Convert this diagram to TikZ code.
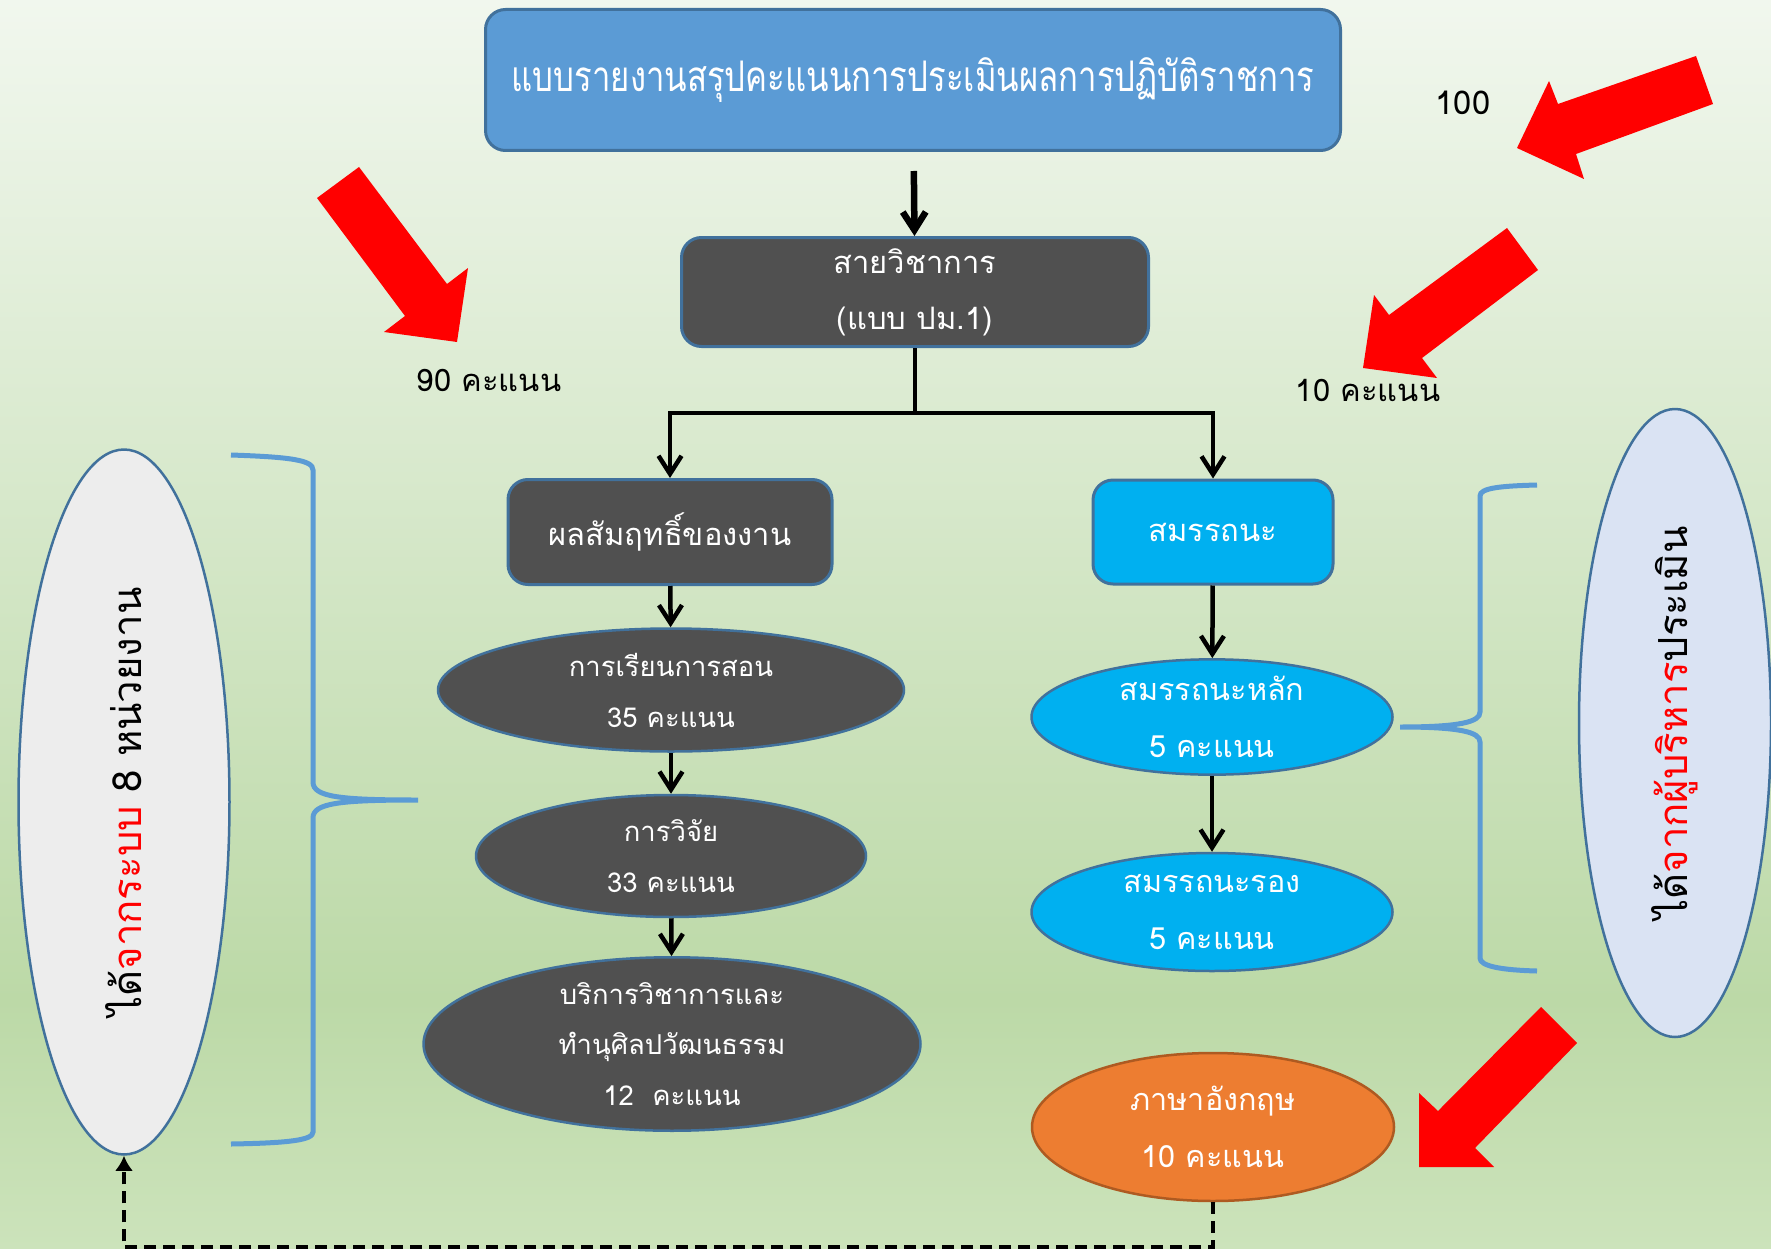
\documentclass[tikz,border=0pt]{standalone}
\usepackage{fontspec}
\usepackage{tikz}
\usetikzlibrary{arrows.meta,calc,shapes.geometric,positioning}
\setmainfont[Script=Thai]{Loma}
\newfontfamily\thinthai[Script=Thai,FakeStretch=0.78]{Loma}
\definecolor{topblue}{HTML}{5B9BD5}
\definecolor{edgeblue}{HTML}{41719C}
\definecolor{boxgray}{HTML}{505050}
\definecolor{skyblue}{HTML}{00B0F0}
\definecolor{engorange}{HTML}{ED7D31}
\definecolor{engedge}{HTML}{AE5A21}
\definecolor{sysgray}{HTML}{EDEDED}
\definecolor{execblue}{HTML}{DAE3F3}
\definecolor{bgtop}{HTML}{F1F7EE}
\definecolor{bgmid}{HTML}{BCD9A7}
\definecolor{bgbot}{HTML}{CCE3BB}
\tikzset{
	box/.style={draw=edgeblue,line width=0.3mm,rounded corners=2mm,text=white,align=center,inner sep=0pt,font=\fontsize{8.8}{16}\selectfont},
	graybox/.style={box,fill=boxgray},
	skybox/.style={box,fill=skyblue},
	oval/.style={ellipse,draw=edgeblue,line width=0.25mm,text=white,align=center,inner sep=0pt,font=\fontsize{8.7}{16.2}\selectfont},
	grayoval/.style={oval,fill=boxgray,font=\fontsize{7.8}{14.5}\selectfont},
	flow/.style={-{Straight Barb[length=1.8mm,width=2.3mm]},line width=0.45mm},
	brace/.style={draw=topblue,line width=0.5mm},
	score/.style={font=\fontsize{8.8}{11}\selectfont},
	sidetext/.style={rotate=90,font=\fontsize{11.4}{13}\selectfont}
}

\begin{document}
\begin{tikzpicture}[x=0.1mm,y=-0.1mm]
	\useasboundingbox (0,0) rectangle (1771,1249);
	\shade[top color=bgtop,bottom color=bgmid] (0,0) rectangle (1771,1000);
	\shade[top color=bgmid,bottom color=bgbot] (0,1000) rectangle (1771,1249);
	
	\node[box,fill=topblue,minimum width=85.5mm,minimum height=14.1mm,font=\thinthai\fontsize{12}{14}\selectfont] (report) at (913,80) {\raisebox{-0.7mm}{แบบรายงานสรุปคะแนนการประเมินผลการปฏิบัติราชการ}};
	\node[graybox,minimum width=46.7mm,minimum height=10.9mm] (track) at (915,292) {สายวิชาการ\\(แบบ ปม.1)};
	
	\node[graybox,minimum width=32.4mm,minimum height=10.5mm] (result) at (670,532) {\raisebox{-0.4mm}{ผลสัมฤทธิ์ของงาน}};
	\node[skybox,minimum width=24mm,minimum height=10.4mm] (compet) at (1213,532) {\raisebox{-0.4mm}{สมรรถนะ}};
	
	\node[grayoval,minimum width=46.6mm,minimum height=12.3mm] (teach) at (671,690) {การเรียนการสอน\\35 คะแนน};
	\node[grayoval,minimum width=39mm,minimum height=12.2mm] (research) at (671,856) {การวิจัย\\33 คะแนน};
	\node[grayoval,minimum width=49.7mm,minimum height=16.6mm,font=\fontsize{7.8}{14.3}\selectfont] (service) at (672,1044) {บริการวิชาการและ\\ทำนุศิลปวัฒนธรรม\\12~~คะแนน};
	
	\node[oval,fill=skyblue,minimum width=36.1mm,minimum height=11.4mm] (core) at (1212,717) {สมรรถนะหลัก\\5 คะแนน};
	\node[oval,fill=skyblue,minimum width=36.1mm,minimum height=11.8mm] (support) at (1212,912) {สมรรถนะรอง\\5 คะแนน};
	\node[oval,fill=engorange,draw=engedge,minimum width=36.2mm,minimum height=14.8mm] (english) at (1213,1127) {ภาษาอังกฤษ\\10 คะแนน};
	
	\node[oval,fill=sysgray,minimum width=21.1mm,minimum height=70.5mm] (system) at (124,802) {};
	\node[sidetext] (systemtext) at (system.center) {ได้\textcolor{red}{จากระบบ} 8 หน่วยงาน};
	\node[oval,fill=execblue,minimum width=19.2mm,minimum height=62.8mm] (exec) at (1675,723) {};
	\node[sidetext] (exectext) at (exec.center) {ได้\textcolor{red}{จากผู้บริหาร}ประเมิน};
	
	\node[score,font=\fontsize{9.3}{11}\selectfont] (total) at (1463,103) {100};
	\node[score] (left90) at (489,380) {90 คะแนน};
	\node[score] (right10) at (1368,390) {10 คะแนน};
	
	\coordinate (split) at (915,413);
	\draw[flow,line width=0.65mm,shorten <=1.9mm] (report) -- (track);
	\draw[line width=0.45mm] (track) -- (split);
	\draw[flow] (split) -| (result);
	\draw[flow] (split) -| (compet);
	\draw[flow] (result) -- (teach);
	\draw[flow] (teach) -- (research);
	\draw[flow] (research) -- (service);
	\draw[flow] (compet) -- (core);
	\draw[flow] (core) -- (support);
	\draw[-{Latex[length=1.5mm,width=1.8mm]},line width=0.4mm,dash pattern=on 1.2mm off 0.7mm] (english.south) -- ++(0,45) -| (system.south);
	
	% braces
	\draw[brace] (231,455) .. controls (290,457) and (313,460) .. (313,470) -- (313,782) .. controls (313,797) and (340,800) .. (418,800) .. controls (340,800) and (313,803) .. (313,818) -- (313,1132) .. controls (313,1140) and (290,1143) .. (231,1144);
	\draw[brace] (1537,485) .. controls (1500,486) and (1480,488) .. (1480,496) -- (1480,712) .. controls (1480,722) and (1460,727) .. (1400,727) .. controls (1460,727) and (1480,732) .. (1480,742) -- (1480,958) .. controls (1480,966) and (1500,970) .. (1537,971);
	
	% red arrows
	\fill[red] (317,198) -- (359,167) -- (447,284) -- (468,268) -- (457,342) -- (384,332) -- (405,316) -- cycle;
	\fill[red] (1696,56) -- (1713,104) -- (1576,154) -- (1584,179) -- (1517,148) -- (1549,81) -- (1558,104) -- cycle;
	\fill[red] (1507,228) -- (1538,270) -- (1422,358) -- (1437,378) -- (1363,368) -- (1374,295) -- (1389,315) -- cycle;
	\fill[red] (1541,1007) -- (1577,1043) -- (1475,1148) -- (1494,1167) -- (1419,1167) -- (1419,1093) -- (1438,1111) -- cycle;
\end{tikzpicture}
\end{document}
